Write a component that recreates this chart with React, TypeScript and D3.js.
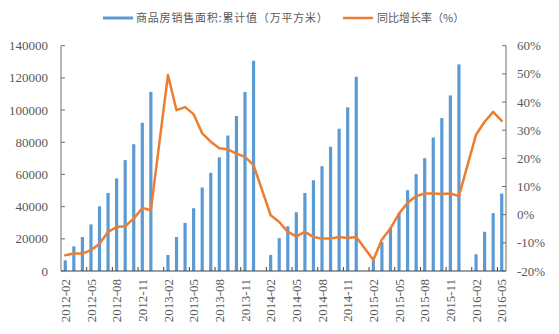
import React from "react";
import * as d3 from "d3";

const months: string[] = (() => {
  const out: string[] = [];
  for (let y = 2012; y <= 2016; y++) {
    for (let m = 1; m <= 12; m++) {
      if (y === 2012 && m < 2) continue;
      if (y === 2016 && m > 5) break;
      out.push(`${y}-${String(m).padStart(2, "0")}`);
    }
  }
  return out;
})();

// cumulative sales area (万平方米), null = January (no data)
const salesArea: (number | null)[] = [
  6650, 15300, 21100, 29000, 40200, 48500, 57500, 68900, 78800, 92100, 111300,
  null, 9960, 21100, 29900, 39000, 51900, 61000, 70600, 84200, 96300, 111200, 130600,
  null, 9960, 20400, 27800, 36500, 48500, 56400, 65100, 77200, 88400, 101700, 120700,
  null, 7000, 17900, 27000, 36100, 50200, 60200, 70100, 83000, 95000, 109100, 128400,
  null, 10400, 24400, 36000, 48100,
];

// YoY growth (%)
const growth: (number | null)[] = [
  -14.4, -13.8, -13.8, -12.6, -10.3, -6.1, -4.4, -4.1, -1.4, 2.4, 1.6,
  null, 49.6, 37.1, 38.2, 35.7, 28.9, 25.9, 23.6, 23.2, 21.7, 20.5, 17.6,
  null, -0.2, -2.6, -6.1, -7.7, -6.1, -7.9, -8.5, -8.5, -7.9, -8.3, -7.9,
  null, -16.1, -8.8, -4.9, 0.4, 4.2, 6.6, 7.5, 7.5, 7.3, 7.5, 6.6,
  null, 28.4, 33.0, 36.5, 33.3,
];

const leftTicks = [0, 20000, 40000, 60000, 80000, 100000, 120000, 140000];
const rightTicks = [-20, -10, 0, 10, 20, 30, 40, 50, 60];

const seriesNames = ["商品房销售面积:累计值（万平方米）", "同比增长率（%）"];

const W = 559;
const H = 334;
const L = 61;
const R = 506;
const T = 45.7;
const B = 271;

export default function App() {
  const x = d3.scaleBand<string>().domain(months).range([L, R]).padding(0);
  const bw = x.bandwidth();
  const yL = d3.scaleLinear().domain([0, 140000]).range([B, T]);
  const yR = d3.scaleLinear().domain([-20, 60]).range([B, T]);
  const barW = 3.2;
  const axisColor = "#6e6e6e";
  const textColor = "#595959";
  const serif = "'Liberation Serif', 'DejaVu Serif', serif";

  const linePts = months
    .map((m, i) => ({ m, v: growth[i] }))
    .filter((d) => d.v !== null) as { m: string; v: number }[];
  const lineGen = d3
    .line<{ m: string; v: number }>()
    .x((d) => (x(d.m) as number) + bw / 2)
    .y((d) => yR(d.v));

  const bottomTickIdx = d3.range(3, months.length, 3);

  return (
    <svg
      width={W}
      height={H}
      style={{ position: "absolute", left: 0, top: 0, background: "#fff" }}
    >
      {/* legend */}
      <line x1={103} x2={133} y1={18} y2={18} stroke="#5B9BD5" strokeWidth={3} />
      <text
        x={136}
        y={22}
        fontSize={11}
        letterSpacing={0.8}
        fill={textColor}
        fontFamily="'Noto Sans CJK SC', sans-serif"
      >
        {seriesNames[0]}
      </text>
      <line x1={343} x2={373} y1={18} y2={18} stroke="#ED7D31" strokeWidth={2.5} />
      <text
        x={377}
        y={22}
        fontSize={11}
        fill={textColor}
        fontFamily="'Noto Sans CJK SC', sans-serif"
      >
        {seriesNames[1]}
      </text>

      {/* bars */}
      {months.map((m, i) => {
        const v = salesArea[i];
        if (v === null) return null;
        const cx = (x(m) as number) + bw / 2;
        return (
          <rect
            key={m}
            x={cx - barW / 2}
            y={yL(v)}
            width={barW}
            height={B - yL(v)}
            fill="#5B9BD5"
          />
        );
      })}

      {/* axes */}
      <line x1={L} x2={L} y1={T} y2={B} stroke={axisColor} strokeWidth={1} />
      <line x1={R} x2={R} y1={T} y2={B} stroke={axisColor} strokeWidth={1} />
      <line x1={L} x2={R} y1={B} y2={B} stroke="#404040" strokeWidth={1.2} />
      {leftTicks.map((t) => (
        <g key={"l" + t}>
          <line x1={L} x2={L + 4} y1={yL(t)} y2={yL(t)} stroke={axisColor} />
          <text
            x={48}
            y={yL(t)}
            dy="0.35em"
            textAnchor="end"
            fontSize={13}
            fill={textColor}
            fontFamily={serif}
          >
            {t}
          </text>
        </g>
      ))}
      {rightTicks.map((t) => (
        <g key={"r" + t}>
          <line x1={R - 4} x2={R} y1={yR(t)} y2={yR(t)} stroke={axisColor} />
          <text
            x={517}
            y={yR(t)}
            dy="0.35em"
            textAnchor="start"
            fontSize={13}
            fill={textColor}
            fontFamily={serif}
          >
            {t + "%"}
          </text>
        </g>
      ))}
      {bottomTickIdx.map((k) => {
        const xx = L + k * bw;
        return <line key={"b" + k} x1={xx} x2={xx} y1={B} y2={B - 4} stroke="#404040" />;
      })}
      {months.map((m, i) =>
        i % 3 === 0 ? (
          <text
            key={"xl" + m}
            transform={`translate(${(x(m) as number) + bw / 2},${279}) rotate(-90)`}
            dy="0.35em"
            textAnchor="end"
            fontSize={13}
            fill={textColor}
            fontFamily={serif}
          >
            {m}
          </text>
        ) : null
      )}

      {/* line */}
      <path
        d={lineGen(linePts) || ""}
        fill="none"
        stroke="#ED7D31"
        strokeWidth={2.5}
        strokeLinejoin="round"
        strokeLinecap="round"
      />
    </svg>
  );
}
